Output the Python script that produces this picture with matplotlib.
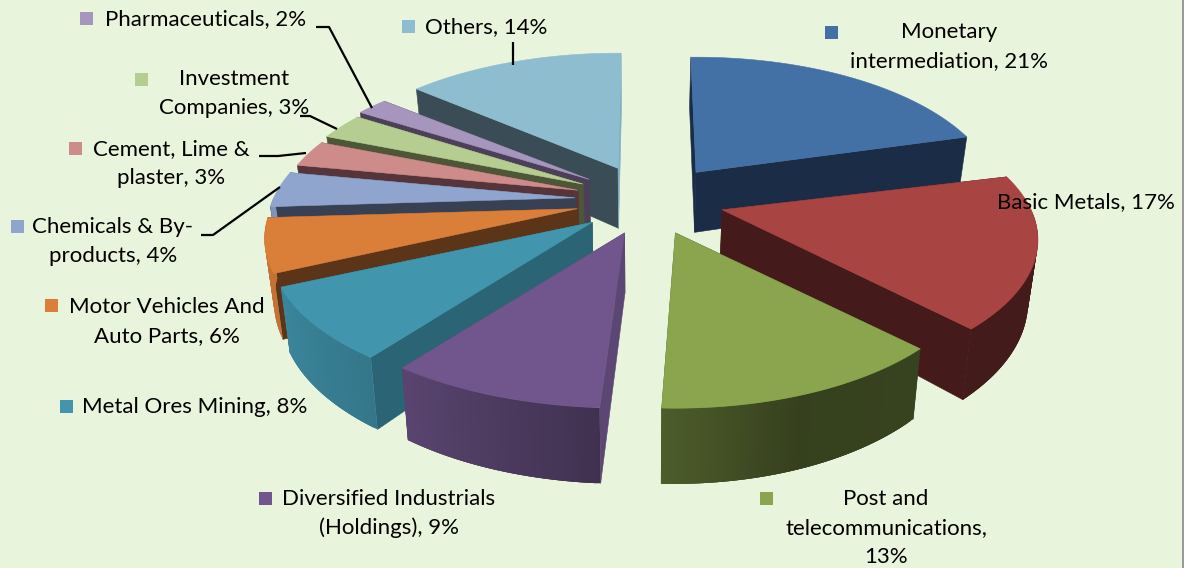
import numpy as np
import matplotlib
matplotlib.use("Agg")
import matplotlib.pyplot as plt
from matplotlib.patches import Polygon, Rectangle

# ---- data ----
names = ["Monetary\nintermediation", "Basic Metals", "Post and\ntelecommunications,\n",
         "Diversified Industrials\n(Holdings)", "Metal Ores Mining", "Motor Vehicles And\nAuto Parts",
         "Chemicals & By-\nproducts", "Cement, Lime &\nplaster", "Investment\nCompanies",
         "Pharmaceuticals", "Others"]
values = [21, 17, 13, 9, 8, 6, 4, 3, 3, 2, 14]
top_colors = ["#4471a5", "#a84442", "#8aa54d", "#70568c", "#4195ad", "#d97f3a",
              "#8fa5cd", "#cd8b8a", "#b5cd91", "#a695bd", "#8dbdcf"]
wall_start = ["#1a2c46", "#451a1a", "#363f1e", "#5c4674", "#2a6475", "#5c3519",
              "#384054", "#55343a", "#4d5636", "#4c4058", "#3a4d56"]
wall_end = ["#1a2c46", "#451a1a", "#4d5f2c", "#5c4674", "#2a6475", "#5c3519",
            "#384054", "#55343a", "#4d5636", "#4c4058", "#7fb0c4"]
BG = "#e8f4dc"

# ---- projection of the exploded pie ----
CX, CY = 650, 200
EX, EY = 75, 35
A, B, K = 306, 139, 0.207
DEPTH = 60
VAN_X, SHRINK = 640, 0.975
# per-slice perspective correction: horizontal stretch and small turn in degrees
widen = [.97, 1.01, .97, 1.03, 1.025, 1.0, .985, .97, .97, .985, .98]
turn = [-1.2, 0, -1.5, 0, 0, 0, 0, 0, 0, 0, .7]

fig = plt.figure(figsize=(11.89, 5.68), dpi=100, facecolor=BG)
ax = fig.add_axes([0, 0, 1, 1])
ax.set_xlim(0, 1189)
ax.set_ylim(568, 0)
ax.axis("off")

plt.rcParams["font.family"] = ["Lato", "DejaVu Sans"]


def rim(apex, t, stretch):
    w = 1 + K * np.cos(t)
    return apex[0] + stretch * A * np.sin(t) / w, apex[1] - B * np.cos(t) / w, w


def lower(x, y, w):
    return VAN_X + SHRINK * (x - VAN_X), y + DEPTH / w


def shade(color, f):
    rgb = np.array(matplotlib.colors.to_rgb(color))
    return tuple(rgb * f)


def face(pts, color, z):
    ax.add_patch(Polygon(pts, closed=True, fc=color, ec=color, lw=0.4, zorder=z))


def band(pts, color, z):
    ax.add_patch(Polygon(pts, closed=True, fc=color, ec="none", lw=0, zorder=z))


edges = np.radians(np.concatenate([[0], np.cumsum(values)]) * 3.6)
mids = (edges[:-1] + edges[1:]) / 2
order = np.argsort(-np.cos(mids))

for rank, i in enumerate(order):
    t0, t1 = edges[i] + np.radians(turn[i]), edges[i + 1] + np.radians(turn[i])
    apex = (CX + EX * np.sin(mids[i]), CY - EY * np.cos(mids[i]))
    apex_low = lower(apex[0], apex[1], 1.0)
    z = 2 + rank
    ts = np.linspace(t0, t1, 60)
    xs, ys, ws = rim(apex, ts, widen[i])
    lx, ly = lower(xs, ys, ws)
    # radial walls
    face([apex, (xs[0], ys[0]), (lx[0], ly[0]), apex_low], wall_start[i], z)
    face([apex, (xs[-1], ys[-1]), (lx[-1], ly[-1]), apex_low], wall_end[i], z)
    # outer wall, only the part that faces the viewer, lit along the rim
    for j in range(len(ts) - 1):
        if np.cos(ts[j]) > 0:
            continue
        k = min(j + 3, len(ts) - 1)
        f = np.interp(np.degrees(ts[j]), [0, 137, 160, 183, 216, 245, 360],
                      [.4, .4, .39, .57, .8, .9, .9])
        band([(xs[j], ys[j]), (xs[k], ys[k]), (lx[k], ly[k]), (lx[j], ly[j])],
             shade(top_colors[i], f), z)
    # top face
    face([apex] + list(zip(xs, ys)), top_colors[i], z)

# ---- labels: text centre, first-line y, key position ----
layout = [
    (949, 32, 831, 32), (1086, 202, 983, 200), (886, 499, 766, 498), (389, 499, 265, 498),
    (195, 407, 66, 406), (167, 307, 51, 305), (113, 227, 17, 226), (171, 149, 75, 148),
    (234, 79, 141, 79), (206, 19, 86, 18), (486, 27, 408, 26),
]
LINE = 29
for name, v, col, (tx, ty, kx, ky) in zip(names, values, top_colors, layout):
    parts = name.split("\n")
    if parts[-1] == "":
        parts[-1] = f"{v}%"
    else:
        parts[-1] = f"{parts[-1]}, {v}%"
    for n, line in enumerate(parts):
        ax.text(tx, ty + n * LINE, line, ha="center", va="center", fontsize=16,
                color="black", zorder=30)
    ax.add_patch(Rectangle((kx - 6.5, ky - 6.5), 13, 13, fc=col, ec="none", zorder=29))

# ---- leader lines ----
leaders = [
    [(316, 27), (329, 27), (372, 108)],
    [(513, 42), (513, 65)],
    [(300, 116), (310, 116), (337, 129)],
    [(259, 156), (278, 156), (306, 153)],
    [(201, 235), (213, 235), (280, 187)],
]
for pts in leaders:
    px, py = zip(*pts)
    ax.plot(px, py, color="black", lw=1.6, zorder=31, solid_capstyle="butt")

# ---- frame edge at the right of the picture ----
ax.add_patch(Rectangle((1184, 0), 5, 568, fc="white", ec="none", zorder=40))
ax.add_patch(Rectangle((1182, 0), 2, 568, fc="#9a9a9a", ec="none", zorder=41))

fig.savefig("out.png", dpi=100, facecolor=BG)
